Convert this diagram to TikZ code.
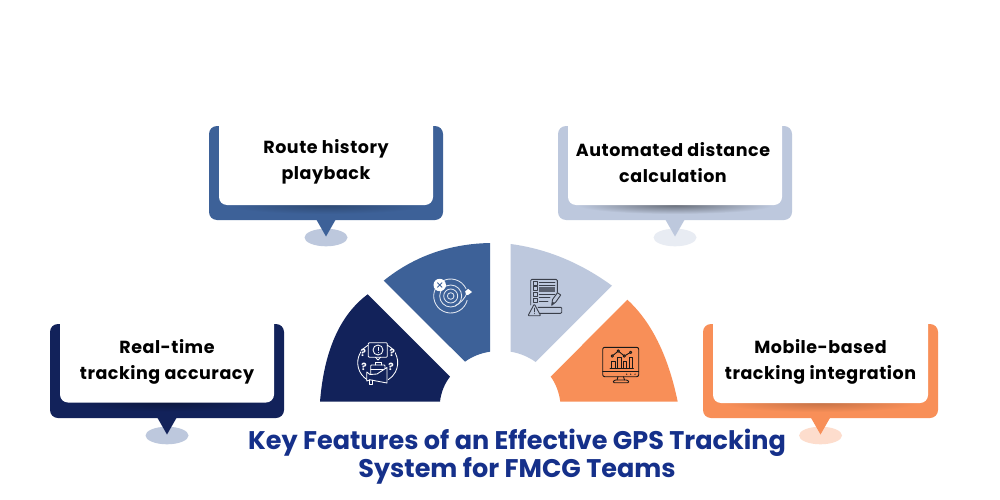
\documentclass[tikz,border=0pt]{standalone}
\usepackage{fontspec}
\setmainfont{Poppins}[BoldFont={Poppins Bold}]
\definecolor{cnavy}{HTML}{12225A}
\definecolor{cblue}{HTML}{3D6198}
\definecolor{clight}{HTML}{BDC8DD}
\definecolor{corange}{HTML}{F88F58}
\definecolor{ctitle}{HTML}{15308A}
\definecolor{cicon}{HTML}{3A3F4A}
\newcommand{\bubble}[8]{% x1 x2 y1 y2(bottom) whitebottom colour ellipsecolour shadow
  \pgfmathsetmacro{\mx}{(#1+#2)/2}
  \fill[#7] (\mx,#4+17.5) ellipse [x radius=21.5, y radius=8.8];
  \fill[#6,rounded corners=8] (#1,#3) -- (#1,#4) -- (#2,#4) -- (#2,#3) -- cycle;
  \fill[#6] (\mx-10,#4-1) -- (\mx+10,#4-1) -- (\mx,#4+16.5) -- cycle;
  \shade[inner color=black!#8!#6, outer color=#6] (\mx,#5) ellipse [x radius=98, y radius=9];
  \fill[white,rounded corners=8] (#1+10,#3-12) -- (#1+10,#5) -- (#2-10,#5) -- (#2-10,#3-12) -- cycle;
}
\tikzset{
  lbl/.style={font=\bfseries\fontsize{17.5}{26}\selectfont\addfontfeature{LetterSpace=3}, text=black, align=center, inner sep=0},
  ttl/.style={font=\bfseries\fontsize{25.5}{26}\selectfont, text=ctitle, align=center, inner sep=0},
  wln/.style={draw=white, line width=0.85, line cap=round, line join=round},
  bln/.style={draw=black!90, line width=0.9, line cap=round, line join=round},
  gln/.style={draw=cicon, line width=0.9, line cap=round, line join=round},
  qm/.style={font=\bfseries\fontsize{10}{10}\selectfont, text=white, inner sep=0},
}
\begin{document}
\begin{tikzpicture}[x=1pt,y=-1pt]
\useasboundingbox (0,0) rectangle (1000,500);
\fill[white] (0,0) rectangle (1000,500);

\bubble{50}{284}{324}{418}{402.5}{cnavy}{clight}{30}
\bubble{209}{443}{126}{220}{205}{cblue}{clight}{25}
\bubble{558}{792}{126}{220}{205}{clight}{clight!35!white}{45}
\bubble{703}{938}{324}{418}{403}{corange}{corange!30!white}{20}

% sectors
\fill[cnavy] (320,401.7) .. controls (324.1,350.8) and (339.9,315) .. (367.7,294.3)
  -- (450,376.7) .. controls (445,383) and (441,392) .. (440,401.7) -- cycle;
\fill[cblue] (383.7,280.7) .. controls (414,256.3) and (449.4,243.8) .. (490,243)
  -- (490,351.7) .. controls (481,353) and (472,356.5) .. (465,361.7) -- cycle;
\fill[clight] (510.7,244) .. controls (546.7,248.8) and (580.4,262.7) .. (612,285.7)
  -- (535.7,362) .. controls (528,356.5) and (519,353) .. (510.7,351.7) -- cycle;
\fill[corange] (627.3,299.7) .. controls (651.4,321.7) and (668.2,355.7) .. (677.7,401.7)
  -- (560.3,401.7) .. controls (559,392) and (555.5,383) .. (550.7,376.7) -- cycle;

% icon on navy sector
\draw[wln] (377.7,362.7) ++(120:20) arc (120:240:20);
\draw[wln] (377.7,362.7) ++(-62:20) arc (-62:58:20);
\draw[wln,rounded corners=1] (368.3,342.7) rectangle (387.3,357.3);
\draw[wln] (375.5,357.3) -- (378,360) -- (380.5,357.3);
\draw[wln] (378,350) circle [radius=5];
\draw[wln] (378,347.3) -- (378,350.5) (378,352.5) -- (378,352.6);
\node[qm,fill=cnavy] (q1) at (363.3,352.7) {?};
\node[qm,fill=cnavy] (q2) at (392.3,352.7) {?};
\node[qm,fill=cnavy] (q3) at (364,366.7) {?};
\node[qm,fill=cnavy] (q4) at (391,366.7) {?};
\draw[wln,fill=cnavy,rounded corners=0.8] (370.7,365) rectangle (385,375);
\draw[wln] (375,365) -- (375,362.5) -- (381,362.5) -- (381,365) (370.7,369.5) -- (385,369.5);
\draw[wln,fill=cnavy] (366.8,372) -- (366.8,381) -- (370,379.8) -- (387,383) -- (387,367.5) -- (377,374) -- (370,374.5) -- cycle;
\draw[wln] (369.5,379.8) -- (369.5,384.5) -- (372,384.5) -- (372,380.2);

% icon on blue sector
\draw[wln,draw=white!85!cblue] (450.7,296) ++(15:17) arc (15:335:17);
\draw[wln,draw=white!85!cblue] (450.7,296) circle [radius=11];
\draw[wln,draw=white!85!cblue] (450.7,296) circle [radius=7];
\draw[wln,draw=white!85!cblue] (450.7,296) circle [radius=3.3];
\draw[wln,draw=white!85!cblue] (455,306) .. controls (461,303) and (465,298) .. (467,293);
\fill[white] (439.7,285) circle [radius=6.2];
\draw[cblue,line width=0.9] (437.3,282.6) -- (442.1,287.4) (442.1,282.6) -- (437.3,287.4);
\fill[white] (465.2,291.5) -- (468,288.8) -- (472,292) -- (468,295) -- (466,294.6) -- cycle;

% icon on light sector
\draw[gln,rounded corners=1.2] (530.7,305) -- (530.7,279.3) -- (557.3,279.3) -- (557.3,296);
\draw[gln] (533,281.3) rectangle (537.2,285.3) (533,286.7) rectangle (537.2,290.7)
  (533,292.7) rectangle (537.2,296.7) (533,298.7) rectangle (537.2,302.7);
\draw[gln] (539.3,282.3) -- (555,282.3) (539.3,285.3) -- (555,285.3)
  (539.3,294) -- (555,294) (539.3,297.5) -- (550,297.5) (539.3,301) -- (548,301);
\fill[cicon!75!clight] (539.3,287) rectangle (555,291.5);
\draw[gln,fill=clight,rounded corners=1] (538,307.3) -- (561.7,307.3) -- (561.7,313.3) -- (538,313.3);
\draw[gln,fill=clight,rounded corners=0.8] (534.3,304) -- (528,315.7) -- (540.7,315.7) -- cycle;
\draw[gln] (534.3,308) -- (534.3,311.8) (534.3,313.5) -- (534.3,313.6);
\draw[gln,fill=clight] (551.7,305.3) -- (552.5,299.5) -- (557.5,292.7) -- (560.7,295) -- (555.8,302) -- cycle;
\fill[cicon] (551.7,305.3) -- (552.2,301.5) -- (554.5,303) -- cycle;

% icon on orange sector
\draw[bln,rounded corners=2] (602.7,347.3) rectangle (638.7,376.7);
\draw[bln] (602.7,371.7) -- (638.7,371.7);
\draw[bln] (618,376.7) -- (617,380) (623.5,376.7) -- (624.5,380);
\draw[bln,rounded corners=1] (613.3,382.7) -- (613.3,381) -- (615,380) -- (627,380) -- (628.7,381) -- (628.7,382.7) -- cycle;
\draw[bln] (610,368.3) -- (633.3,368.3);
\draw[bln] (611.7,368.3) rectangle (615,361.7) (617.3,368.3) rectangle (621.7,357.3)
  (623.3,368.3) rectangle (626.7,361.7) (629,368.3) rectangle (632.3,357.3);
\draw[bln] (612.3,356) -- (618.3,351) -- (624.3,356) -- (630.7,352.3);
\draw[bln,fill=corange] (612.3,356) circle [radius=1.2] (618.3,351) circle [radius=1.2]
  (624.3,356) circle [radius=1.2] (630.7,352.3) circle [radius=1.2];
\fill[black!90] (626.7,374.2) circle [radius=0.7] (630.7,374.2) circle [radius=0.7] (635,374.2) circle [radius=0.7];

% labels
\node[lbl] (l1) at (167,361.5) {Real-time\\tracking accuracy};
\node[lbl] (l2) at (326,162) {Route history\\playback};
\node[lbl] (l3) at (673,163) {Automated distance\\calculation};
\node[lbl] (l4) at (820.5,361.5) {Mobile-based\\tracking integration};
\node[ttl] (title) at (517,457) {Key Features of an Effective GPS Tracking\\System for FMCG Teams};
\end{tikzpicture}
\end{document}
